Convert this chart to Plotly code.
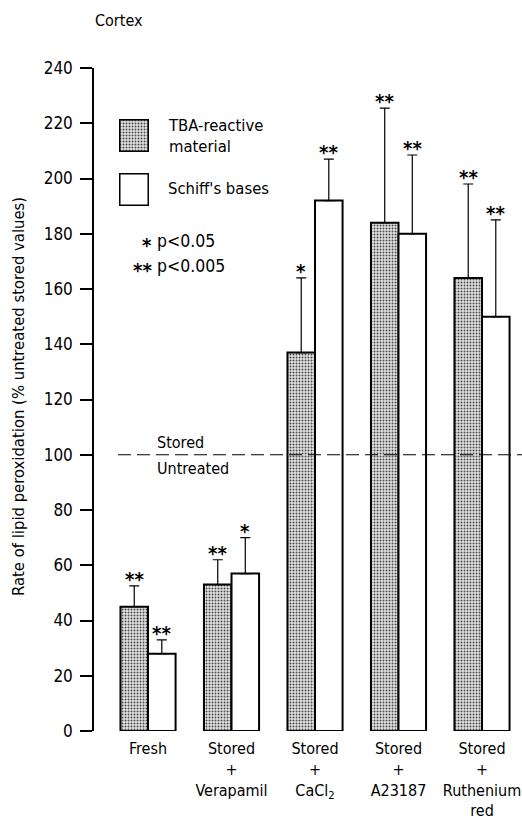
import plotly.graph_objects as go

# ---- data ----
categories = ["Fresh", "Stored<br>+<br>Verapamil", "Stored<br>+<br>CaCl<sub>2</sub>",
              "Stored<br>+<br>A23187", "Stored<br>+<br>Ruthenium<br>red"]
tba_mean = [45, 53, 137, 184, 164]
tba_err = [7.5, 9, 27, 41.5, 34]
schiff_mean = [28, 57, 192, 180, 150]
schiff_err = [5, 13, 15, 28.5, 35]
tba_sig = ["**", "**", "*", "**", "**"]
schiff_sig = ["**", "*", "**", "**", "**"]
y_ticks = list(range(0, 241, 20))

FONT = "Liberation Sans Narrow, DejaVu Sans Condensed, Arial Narrow, sans-serif"
W, H = 522, 820
L, R, T, B = 94, 0, 68, 89
pw, ph = W - L - R, H - T - B

def px(x):
    return (x - L) / pw

def py(y):
    return (H - B - y) / ph

xs = list(range(len(categories)))
off = 0.165
bw = 0.33

pattern = dict(shape=".", size=3, solidity=0.35, fgcolor="#4a4a4a", bgcolor="#e4e4e4", fillmode="replace")

fig = go.Figure()
fig.add_trace(go.Bar(
    x=[x - off for x in xs], y=tba_mean, width=bw, name="TBA-reactive material",
    marker=dict(color="#dcdcdc", pattern=pattern, line=dict(color="black", width=2)),
    error_y=dict(type="data", array=tba_err, arrayminus=[0] * 5, symmetric=False,
                 color="black", thickness=1.2, width=5),
    showlegend=False))
fig.add_trace(go.Bar(
    x=[x + off for x in xs], y=schiff_mean, width=bw, name="Schiff's bases",
    marker=dict(color="white", line=dict(color="black", width=2)),
    error_y=dict(type="data", array=schiff_err, arrayminus=[0] * 5, symmetric=False,
                 color="black", thickness=1.2, width=5),
    showlegend=False))

# legend swatches on small overlay axes
fig.add_trace(go.Bar(x=[0.5], y=[1], width=[1], xaxis="x2", yaxis="y2", showlegend=False,
                     marker=dict(color="#dcdcdc", pattern=pattern, line=dict(color="black", width=3)),
                     hoverinfo="skip"))
fig.add_trace(go.Bar(x=[0.5], y=[1], width=[1], xaxis="x3", yaxis="y3", showlegend=False,
                     marker=dict(color="white", line=dict(color="black", width=3)),
                     hoverinfo="skip"))

star_font = dict(family=FONT, size=20, color="black")
annotations = []
for i in xs:
    annotations.append(dict(x=i - off, y=tba_mean[i] + tba_err[i], xref="x", yref="y",
                            text="<b>" + tba_sig[i] + "</b>", showarrow=False, yanchor="bottom",
                            yshift=-7, font=star_font))
    annotations.append(dict(x=i + off, y=schiff_mean[i] + schiff_err[i], xref="x", yref="y",
                            text="<b>" + schiff_sig[i] + "</b>", showarrow=False, yanchor="bottom",
                            yshift=-7, font=star_font))

txt = dict(family=FONT, size=16, color="black")
ptxt = dict(family=FONT, size=17.5, color="black")
annotations += [
    dict(x=px(93), y=py(20), xref="paper", yref="paper", text="Cortex", showarrow=False,
         xanchor="left", yanchor="middle", font=txt),
    dict(x=px(166), y=py(136), xref="paper", yref="paper", text="TBA-reactive<br>material",
         showarrow=False, xanchor="left", yanchor="middle", align="left",
         font=dict(family=FONT, size=16.5, color="black")),
    dict(x=px(166), y=py(188), xref="paper", yref="paper", text="Schiff's bases",
         showarrow=False, xanchor="left", yanchor="middle",
         font=dict(family=FONT, size=16.5, color="black")),
    dict(x=px(154), y=py(245), xref="paper", yref="paper", text="<b>*</b>", showarrow=False,
         xanchor="right", yanchor="middle", font=star_font),
    dict(x=px(155), y=py(241), xref="paper", yref="paper", text="p&lt;0.05", showarrow=False,
         xanchor="left", yanchor="middle", font=ptxt),
    dict(x=px(154), y=py(270), xref="paper", yref="paper", text="<b>**</b>", showarrow=False,
         xanchor="right", yanchor="middle", font=star_font),
    dict(x=px(155), y=py(266), xref="paper", yref="paper", text="p&lt;0.005", showarrow=False,
         xanchor="left", yanchor="middle", font=ptxt),
    dict(x=px(155), y=py(442), xref="paper", yref="paper", text="Stored", showarrow=False,
         xanchor="left", yanchor="middle", font=txt),
    dict(x=px(155), y=py(468), xref="paper", yref="paper", text="Untreated", showarrow=False,
         xanchor="left", yanchor="middle", font=txt),
    dict(x=px(18), y=py(397), xref="paper", yref="paper",
         text="Rate of lipid peroxidation (% untreated stored values)", showarrow=False,
         textangle=-90, xanchor="center", yanchor="middle",
         font=dict(family=FONT, size=16.5, color="black")),
]

shapes = [dict(type="line", xref="paper", yref="y", x0=px(118), x1=1.0, y0=100, y1=100,
               line=dict(color="black", width=1.2, dash="13px,6px"))]

hidden = dict(visible=False, fixedrange=True)
fig.update_layout(
    width=W, height=H,
    margin=dict(l=L, r=R, t=T, b=B),
    paper_bgcolor="white", plot_bgcolor="white",
    bargap=0.34, bargroupgap=0, barmode="overlay",
    font=txt,
    xaxis=dict(range=[-0.647, 4.479], tickvals=xs, ticktext=categories, showgrid=False,
               zeroline=False, showline=False, ticks="", automargin=False,
               ticklabelstandoff=6, tickfont=dict(family=FONT, size=16)),
    yaxis=dict(range=[0, 240], tickvals=y_ticks, showgrid=False, zeroline=False,
               showline=True, linecolor="black", linewidth=1.5, ticks="outside", ticklen=12,
               tickwidth=1.5, tickcolor="black", automargin=False, ticklabelstandoff=4,
               tickfont=dict(family=FONT, size=17)),
    xaxis2=dict(domain=[px(119), px(149)], range=[0, 1], anchor="y2", **hidden),
    yaxis2=dict(domain=[py(152), py(119)], range=[0, 1], anchor="x2", **hidden),
    xaxis3=dict(domain=[px(119), px(149)], range=[0, 1], anchor="y3", **hidden),
    yaxis3=dict(domain=[py(206), py(173)], range=[0, 1], anchor="x3", **hidden),
    annotations=annotations,
    shapes=shapes,
)

fig.write_html("out.html", config={"displayModeBar": False},
               post_script="document.body.style.margin='0px';")
